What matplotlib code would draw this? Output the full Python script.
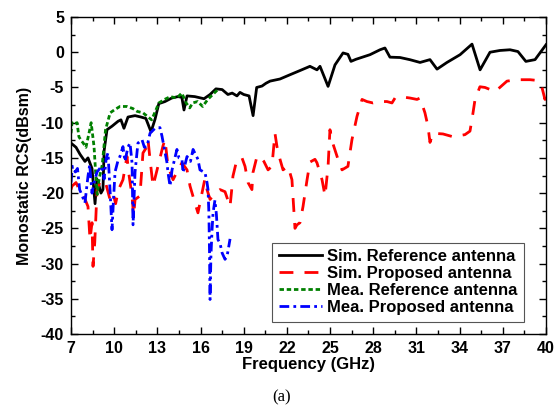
import numpy as np
import matplotlib
matplotlib.use("Agg")
import matplotlib.pyplot as plt
from matplotlib.ticker import FixedLocator, MultipleLocator

plt.rcParams['font.family'] = ['Liberation Sans', 'DejaVu Sans']
plt.rcParams['font.weight'] = 'bold'
plt.rcParams['axes.unicode_minus'] = False

# Sim. reference antenna (GHz, dBsm)
sim_ref_f = [7.0, 7.35, 7.63, 7.97, 8.18, 8.46, 8.67, 8.8, 8.95, 9.08, 9.22, 9.3, 9.5,
             9.85, 10.27, 10.47, 10.68, 10.96, 11.45, 11.86, 12.2, 12.56, 12.84, 13.1,
             13.53, 14.0, 14.43, 14.7, 14.85, 15.06, 15.6, 16.24, 16.66, 17.07, 17.5,
             17.9, 18.2, 18.53, 18.74, 19.0, 19.37, 19.65, 19.9, 20.27, 20.55, 20.83,
             21.52, 22.21, 22.91, 23.6, 24.09, 24.3, 24.86, 25.34, 25.9, 26.24, 26.45,
             26.8, 27.77, 28.47, 28.81, 29.16, 29.86, 30.55, 31.25, 31.94, 32.43, 33.12,
             34.03, 34.86, 35.42, 36.11, 36.8, 37.5, 38.05, 38.6, 39.24, 40.0]
sim_ref_db = [-12.9, -13.5, -14.5, -15.5, -15.0, -16.5, -21.5, -18.0, -19.0, -20.0, -19.5,
              -14.0, -11.0, -10.5, -9.8, -9.6, -10.8, -9.2, -9.0, -9.2, -9.4, -11.3, -9.5,
              -7.3, -7.0, -6.5, -6.3, -6.4, -8.2, -6.2, -6.3, -6.6, -6.0, -5.2, -5.3,
              -6.0, -5.8, -6.2, -5.7, -6.0, -6.2, -9.0, -5.0, -4.8, -4.4, -4.1,
              -3.8, -3.2, -2.6, -2.0, -2.5, -2.0, -4.85, -1.8, -0.1, -0.3, -1.3,
              -1.0, -0.35, 0.35, 0.6, -0.7, -0.75, -1.06, -1.45, -1.05, -2.4, -1.45,
              -0.35, 1.15, -2.5, 0.0, 0.25, 0.35, 0.1, -1.3, -1.05, 1.06]

# Sim. proposed antenna
sim_prop_f = [7.0, 7.07, 7.35, 7.63, 7.9, 8.18, 8.32, 8.46, 8.53, 8.65, 8.81, 9.0, 9.15,
              9.4, 9.71, 9.92, 10.1, 10.3, 10.61, 10.89, 11.0, 11.24, 11.35, 11.45, 11.79,
              12.0, 12.28, 12.35, 12.49, 12.7, 13.04, 13.39, 13.53, 13.74, 14.09, 14.43,
              14.71, 15.06, 15.27, 15.61, 15.82, 16.1, 16.3, 16.45, 16.66, 17.0, 17.35,
              17.7, 18.05, 18.19, 18.25, 18.53, 18.88, 19.09, 19.3, 19.57, 19.64, 19.92,
              20.13, 20.4, 20.69, 20.96, 21.17, 21.31, 21.52, 21.73, 22.08, 22.35, 22.56,
              22.7, 22.91, 23.12, 23.4, 23.6, 23.95, 24.09, 24.44, 24.65, 24.86, 24.99,
              25.2, 25.55, 25.83, 26.24, 26.52, 26.87, 27.22, 27.56, 27.98, 28.4, 28.95,
              29.3, 29.51, 30.2, 30.55, 31.04, 31.25, 31.59, 31.8, 31.94, 32.15, 32.84,
              33.54, 34.37, 34.72, 34.93, 35.07, 35.41, 35.76, 36.25, 36.46, 37.29, 37.99,
              38.89, 39.37, 39.72, 39.93, 40.0]
sim_prop_db = [-19.5, -19.0, -18.5, -19.8, -20.5, -21.9, -26.6, -24.2, -30.4, -27.0, -19.5,
               -18.5, -18.1, -18.5, -20.9, -20.0, -21.5, -19.5, -18.1, -14.8, -17.0, -20.4,
               -23.3, -20.9, -20.4, -14.3, -13.4, -12.4, -15.2, -19.0, -16.2, -13.3, -12.4,
               -16.2, -18.1, -16.7, -15.7, -16.7, -19.0, -21.4, -22.8, -20.0, -18.0, -19.5,
               -20.9, -20.0, -19.5, -19.8, -21.9, -19.0, -17.6, -15.2, -15.0, -16.2, -18.5,
               -19.5, -17.1, -14.8, -14.8, -15.5, -16.7, -16.2, -11.5, -13.4, -15.2, -16.7,
               -16.2, -18.1, -25.0, -24.5, -24.2, -21.9, -18.1, -15.6, -15.2, -15.7, -18.1,
               -20.4, -16.2, -11.0, -13.0, -15.2, -16.7, -16.2, -12.4, -9.1, -6.7, -7.0,
               -7.2, -7.0, -7.0, -7.2, -6.5, -6.4, -6.5, -6.7, -6.5, -8.6, -10.5, -12.8,
               -11.5, -11.6, -12.0, -11.7, -11.2, -8.6, -6.7, -4.9, -5.0, -5.4, -5.6, -4.1,
               -3.9, -3.9, -4.0, -5.0, -6.7, -5.3]

# Mea. reference antenna
mea_ref_f = [7.0, 7.07, 7.2, 7.42, 7.55, 7.7, 7.85, 8.04, 8.25, 8.4, 8.6, 8.7, 8.82, 8.95,
             9.17, 9.4, 9.72, 10.0, 10.4, 10.9, 11.3, 11.6, 12.0, 12.3, 12.6, 12.9, 13.1,
             13.5, 13.9, 14.35, 14.7, 15.0, 15.25, 15.45, 15.8, 16.15, 16.5, 16.85, 17.2]
mea_ref_db = [-11.5, -10.0, -10.2, -10.0, -12.0, -12.5, -12.9, -13.5, -11.5, -10.0, -13.4,
              -16.7, -20.2, -18.0, -16.0, -11.0, -8.6, -8.2, -7.7, -7.7, -8.0, -8.4, -8.6,
              -9.1, -9.6, -8.2, -7.2, -6.7, -6.3, -6.5, -5.8, -7.2, -7.9, -7.2, -7.0, -7.7,
              -6.7, -6.0, -5.3]

# Mea. proposed antenna
mea_prop_f = [7.0, 7.1, 7.3, 7.45, 7.6, 7.8, 7.97, 8.1, 8.18, 8.3, 8.46, 8.6, 8.81, 9.0,
              9.15, 9.3, 9.45, 9.57, 9.71, 9.85, 9.95, 10.06, 10.25, 10.4, 10.61, 10.75,
              10.95, 11.1, 11.24, 11.31, 11.45, 11.65, 11.93, 12.1, 12.28, 12.49, 12.84,
              13.18, 13.32, 13.67, 13.74, 13.88, 14.02, 14.36, 14.5, 14.71, 14.78, 15.06,
              15.3, 15.48, 15.82, 15.96, 16.31, 16.45, 16.52, 16.58, 16.62, 16.66, 16.72,
              16.8, 16.87, 17.0, 17.1, 17.21, 17.35, 17.5, 17.7, 17.84, 18.05]
mea_prop_db = [-18.5, -16.2, -17.0, -16.5, -19.5, -20.5, -21.4, -19.0, -17.6, -16.0, -20.0,
               -18.5, -17.0, -16.5, -16.2, -18.0, -15.0, -14.3, -19.5, -25.2, -21.0, -17.0,
               -15.5, -14.8, -13.4, -15.5, -13.5, -12.9, -15.7, -24.5, -17.0, -12.9, -12.4,
               -13.5, -13.4, -11.5, -10.8, -10.7, -11.9, -15.7, -17.1, -19.0, -16.7, -13.8,
               -15.0, -15.2, -17.1, -14.8, -15.5, -13.8, -15.2, -16.7, -17.1, -18.5, -19.5,
               -22.8, -28.0, -35.1, -29.0, -25.2, -22.8, -21.0, -23.0, -26.6, -27.1, -28.5,
               -29.4, -29.0, -26.5]

xticks = [7, 10, 13, 16, 19, 22, 25, 28, 31, 34, 37, 40]

fig = plt.figure(figsize=(5.56, 4.05), dpi=100)
ax = fig.add_axes([0.1277, 0.1753, 0.8543, 0.7827])

ax.plot(sim_ref_f, sim_ref_db, color='black', lw=2.0, label='Sim. Reference antenna')
ax.plot(sim_prop_f, sim_prop_db, color='red', lw=2.0, dashes=(5, 4),
        label='Sim. Proposed antenna')
ax.plot(mea_ref_f, mea_ref_db, color='green', lw=2.0, dashes=(1.6, 1.0),
        label='Mea. Reference antenna')
ax.plot(mea_prop_f, mea_prop_db, color='blue', lw=2.0, dashes=(3.5, 1.5, 1.0, 1.5),
        label='Mea. Proposed antenna')

ax.set_xlim(7, 40)
ax.set_ylim(-40, 5)
ax.xaxis.set_major_locator(FixedLocator(xticks))
ax.xaxis.set_minor_locator(FixedLocator(np.arange(7, 40.01, 1.5)))
ax.yaxis.set_major_locator(MultipleLocator(5))
ax.yaxis.set_minor_locator(MultipleLocator(2.5))
ax.tick_params(which='both', direction='in', top=True, right=True, labelsize=11.5, width=1)
ax.tick_params(which='major', length=5, pad=5)
ax.tick_params(which='minor', length=3)
for s in ax.spines.values():
    s.set_linewidth(1.0)

ax.set_xlabel('Frequency (GHz)', fontsize=12, fontweight='bold', labelpad=1)
ax.set_ylabel('Monostatic RCS(dBsm)', fontsize=11.5, fontweight='bold', labelpad=6)

leg = ax.legend(loc='lower right', bbox_to_anchor=(0.954, 0.038), borderaxespad=0,
                fancybox=False, framealpha=1, edgecolor='#555555', fontsize=12,
                handlelength=2.6, handletextpad=0.3, labelspacing=0.12,
                borderpad=0.4)
leg.get_frame().set_linewidth(0.8)

fig.text(282 / 556, 1 - 397 / 405, '(a)', family='Liberation Serif', fontsize=12,
         fontweight='normal', ha='center', va='center')

fig.savefig('out.png', dpi=100)
